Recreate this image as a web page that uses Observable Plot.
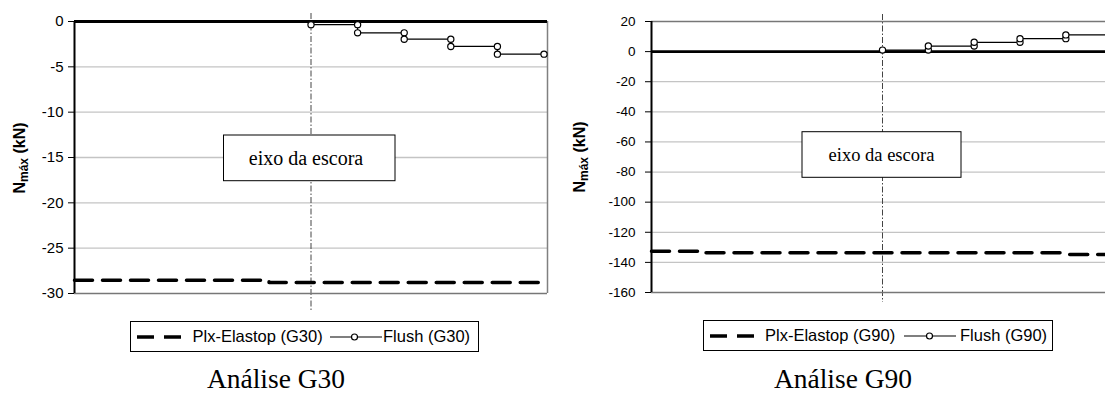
<!DOCTYPE html>
<html>
<head>
<meta charset="utf-8">
<script src="https://cdn.jsdelivr.net/npm/d3@7"></script>
<script src="https://cdn.jsdelivr.net/npm/@observablehq/plot@0.6"></script>
<style>
html, body { margin: 0; padding: 0; background: #fff; overflow: hidden; }
#wrap { position: relative; width: 1105px; height: 394px; overflow: hidden; background: #fff; }
#left, #right { position: absolute; top: 0; width: 560px; height: 320px; }
#left { left: 0; }
#right { left: 560px; }
#overlay { position: absolute; left: 0; top: 0; }
</style>
</head>
<body>
<div id="wrap">
  <div id="left"></div>
  <div id="right"></div>
  <svg id="overlay" width="1105" height="394" xmlns="http://www.w3.org/2000/svg"></svg>
</div>
<script>
// ---------- data ----------
// position along the wall (strut axis at 0), one step per anchor spacing
const flushX = [0, 1, 1, 2, 2, 3, 3, 4, 4, 5];
const flushG30 = [-0.35, -0.35, -1.25, -1.25, -1.95, -1.95, -2.75, -2.75, -3.6, -3.6];
const flushG90 = [1.0, 1.0, 3.7, 3.7, 6.2, 6.2, 8.6, 8.6, 11.1, 11.1];

const plxG30X = [-5.075, -0.9, -0.9, 5.075];
const plxG30 = [-28.55, -28.55, -28.8, -28.8];
const plxG90X = [-5.04, -3.85, -3.85, 3.9, 4.0, 5.04];
const plxG90 = [-132.6, -132.6, -133.6, -133.6, -134.7, -134.7];

const xDomainG30 = [-5.075, 5.075];
const xDomainG90 = [-5.04, 5.04];
const yTicksG30 = [0, -5, -10, -15, -20, -25, -30];
const yTicksG90 = [20, 0, -20, -40, -60, -80, -100, -120, -140, -160];
const strutX = [0];

const seriesNames = {plx: "Plx-Elastop", flush: "Flush"};
const analyses = ["G30", "G90"];
const strutLabel = "eixo da escora";
const yLabelMain = "N", yLabelSub = "máx", yLabelUnit = " (kN)";

// ---------- charts ----------
function chart(cfg) {
  const flushData = flushX.map((x, i) => ({x, y: cfg.flush[i]}));
  const plxData = cfg.plxX.map((x, i) => ({x, y: cfg.plx[i]}));
  const yMin = d3.min(cfg.ticks), yMax = d3.max(cfg.ticks);
  return Plot.plot({
    width: 560, height: 320,
    marginLeft: cfg.ml, marginRight: cfg.mr, marginTop: 21, marginBottom: cfg.mb,
    x: {domain: cfg.xDomain, axis: null},
    y: {domain: [yMin, yMax], axis: null},
    style: {fontFamily: "'Liberation Sans', Arial, sans-serif", fontSize: cfg.fs, color: "#000", background: "transparent"},
    marks: [
      Plot.gridY(cfg.ticks.filter(t => t !== 0 && t !== yMin && t !== yMax), {stroke: "#c4c4c4", strokeOpacity: 1, strokeWidth: 1.3}),
      Plot.ruleX(strutX, {stroke: "#444", strokeWidth: 1, strokeDasharray: "6,2,1.5,2", insetTop: cfg.strutTop, insetBottom: cfg.strutBottom}),
      Plot.ruleY([yMin], {stroke: "#777", strokeWidth: 1.5}),
      Plot.ruleY([yMax], {stroke: "#777", strokeWidth: 1.5}),
      Plot.ruleX([cfg.xDomain[1]], {stroke: "#808080", strokeWidth: 1.5}),
      Plot.ruleY([0], {stroke: "#000", strokeWidth: 2.8}),
      Plot.line(plxData, {x: "x", y: "y", stroke: "#000", strokeWidth: 3.5, strokeDasharray: "18,10", curve: "linear"}),
      Plot.line(flushData, {x: "x", y: "y", stroke: "#000", strokeWidth: 1.2}),
      Plot.dot(flushData, {x: "x", y: "y", r: 3.1, fill: "#fff", stroke: "#000", strokeWidth: 1.2}),
      Plot.ruleX([cfg.xDomain[0]], {stroke: "#000", strokeWidth: 2}),
      Plot.axisY({ticks: cfg.ticks, tickSize: 6, tickPadding: cfg.tp, tickFormat: d => String(d), label: null, stroke: "#000"})
    ]
  });
}

document.getElementById("left").append(chart({
  flush: flushG30, plx: plxG30, plxX: plxG30X, xDomain: xDomainG30, ticks: yTicksG30,
  ml: 74, mr: 13, mb: 27, fs: "15px", tp: 5, strutTop: -8, strutBottom: -18
}));
document.getElementById("right").append(chart({
  flush: flushG90, plx: plxG90, plxX: plxG90X, xDomain: xDomainG90, ticks: yTicksG90,
  ml: 91, mr: 7, mb: 28, fs: "13.5px", tp: 10, strutTop: -7, strutBottom: -10
}));

// ---------- overlay: boxes, axis labels, legends, titles ----------
const ov = d3.select("#overlay");
const sans = "'Liberation Sans', Arial, sans-serif";
const serif = "'Liberation Serif', 'Times New Roman', serif";

function strutBox(x, y, w, h, cx, base, fs) {
  ov.append("rect").attr("x", x).attr("y", y).attr("width", w).attr("height", h)
    .attr("fill", "#fff").attr("stroke", "#000").attr("stroke-width", 1);
  ov.append("text").attr("x", cx).attr("y", base).attr("text-anchor", "middle")
    .attr("font-family", serif).attr("font-size", fs).text(strutLabel);
}
strutBox(223.5, 135, 171.5, 45.7, 306, 165, 20);
strutBox(802, 131.7, 159, 45.6, 881.5, 160.7, 18.5);

function yLabel(bx, cy) {
  const t = ov.append("text").attr("transform", `translate(${bx},${cy}) rotate(-90)`)
    .attr("text-anchor", "middle").attr("font-family", sans).attr("font-weight", "bold").attr("font-size", 16);
  t.append("tspan").text(yLabelMain);
  t.append("tspan").attr("font-size", 12).attr("dy", 3).text(yLabelSub);
  t.append("tspan").attr("dy", -3).text(yLabelUnit);
}
yLabel(25, 158);
yLabel(585, 157);

function legend(g, bx, by, bw, dashX1, dashX2, textX, lineX1, lineX2, circX, text2X, base) {
  const cy = by + 15.5;
  ov.append("rect").attr("x", bx).attr("y", by).attr("width", bw).attr("height", 30)
    .attr("fill", "#fff").attr("stroke", "#000").attr("stroke-width", 1);
  ov.append("line").attr("x1", dashX1).attr("x2", dashX2).attr("y1", cy).attr("y2", cy)
    .attr("stroke", "#000").attr("stroke-width", 3.5).attr("stroke-dasharray", "17,10");
  ov.append("text").attr("x", textX).attr("y", base).attr("font-family", sans).attr("font-size", 16.5)
    .text(`${seriesNames.plx} (${g})`);
  ov.append("line").attr("x1", lineX1).attr("x2", lineX2).attr("y1", cy).attr("y2", cy)
    .attr("stroke", "#000").attr("stroke-width", 1.2);
  ov.append("circle").attr("cx", circX).attr("cy", cy).attr("r", 3)
    .attr("fill", "#fff").attr("stroke", "#000").attr("stroke-width", 1.2);
  ov.append("text").attr("x", text2X).attr("y", base).attr("font-family", sans).attr("font-size", 16.5)
    .text(`${seriesNames.flush} (${g})`);
}
legend(analyses[0], 130.5, 321.5, 348, 137, 182, 192.5, 330, 382, 354.5, 383, 341.8);
legend(analyses[1], 703.5, 320.5, 349, 710, 755, 765, 904, 956, 929.5, 960, 340.6);

function title(g, cx) {
  ov.append("text").attr("x", cx).attr("y", 388).attr("text-anchor", "middle")
    .attr("font-family", serif).attr("font-size", 27.5).text(`Análise ${g}`);
}
title(analyses[0], 276);
title(analyses[1], 843);
</script>
</body>
</html>
